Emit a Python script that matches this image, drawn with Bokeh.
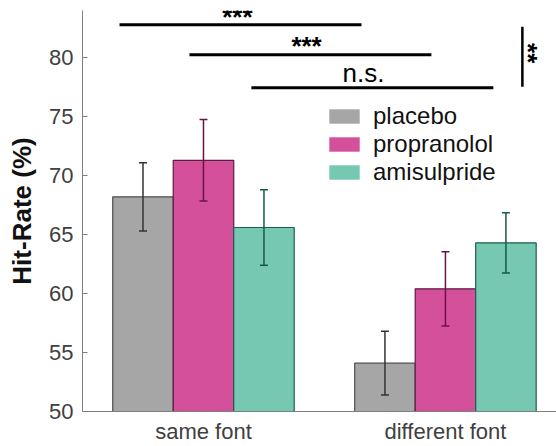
import numpy as np
from bokeh.plotting import figure
from bokeh.models import (ColumnDataSource, Range1d, FixedTicker, Whisker, TeeHead,
                          Legend, LegendItem)
from bokeh.core.properties import value
from bokeh.embed import file_html
from bokeh.resources import INLINE

# ---------------- data ----------------
groups = ["same font", "different font"]
group_x = [1, 2]
series = ["placebo", "propranolol", "amisulpride"]
placebo_mean = [68.2, 54.1]
propranolol_mean = [71.3, 60.4]
amisulpride_mean = [65.6, 64.3]
placebo_sem = [2.9, 2.7]
propranolol_sem = [3.45, 3.15]
amisulpride_sem = [3.2, 2.55]
y_ticks = [50, 55, 60, 65, 70, 75, 80]

# significance brackets (horizontal)
sig_x0 = [0.653, 0.942, 1.198]
sig_x1 = [1.653, 1.942, 2.198]
sig_y = [82.80, 80.25, 77.46]
sig_labels = ["***", "***", "n.s."]
sig_label_x = [1.140, 1.426, 1.661]
sig_label_y = [83.49, 80.95, 78.74]
# vertical bracket
vsig_x = [2.318]
vsig_y0 = [77.54]
vsig_y1 = [82.63]
vsig_label = ["**"]
vsig_label_x = [2.341]
vsig_label_y = [80.38]

means = [placebo_mean, propranolol_mean, amisulpride_mean]
sems = [placebo_sem, propranolol_sem, amisulpride_sem]

fills = ["#a6a6a6", "#d5509b", "#76c8b3"]
edges = ["#4d4d4d", "#5e1a40", "#1a5e4d"]
errc = ["#333333", "#6a1446", "#165a48"]
offsets = [-0.25, 0.0, 0.25]
bar_w = 0.25

FONT = "Liberation Sans"

p = figure(width=556, height=446,
           x_range=Range1d(0.5, 2.459), y_range=Range1d(50, 84),
           output_backend="svg", toolbar_location=None,
           min_border_left=82, min_border_right=0,
           min_border_top=10, min_border_bottom=35)
p.outline_line_color = None
p.xgrid.visible = False
p.ygrid.visible = False
p.background_fill_color = "white"
p.border_fill_color = "white"

# bars + error bars
legend_items = []
for i, name in enumerate(series):
    xs = np.array(group_x, dtype=float) + offsets[i]
    m = np.array(means[i])
    e = np.array(sems[i])
    src = ColumnDataSource(dict(x=xs, top=m, upper=m + e, lower=m - e))
    fill_r = p.vbar(x="x", top="top", bottom=50, width=bar_w, source=src,
                    fill_color=fills[i], line_color=None)
    p.vbar(x="x", top="top", bottom=50, width=bar_w, source=src,
           fill_color=None, line_color=edges[i], line_width=1.2)
    w = Whisker(base="x", upper="upper", lower="lower", source=src,
                dimension="height", line_color=errc[i], line_width=1.5,
                upper_head=TeeHead(size=8, line_color=errc[i], line_width=1.5),
                lower_head=TeeHead(size=8, line_color=errc[i], line_width=1.5),
                level="annotation")
    p.add_layout(w)
    legend_items.append(LegendItem(label=name, renderers=[fill_r]))

# significance annotations
p.segment(x0=sig_x0, y0=sig_y, x1=sig_x1, y1=sig_y, line_color="black", line_width=3)
p.segment(x0=vsig_x, y0=vsig_y0, x1=vsig_x, y1=vsig_y1, line_color="black", line_width=2.5)
for lab, lx, ly in zip(sig_labels, sig_label_x, sig_label_y):
    p.text(x=[lx], y=[ly], text=[lab], text_align="center", text_baseline="middle",
           text_font=value(FONT), text_font_size="26px",
           text_font_style="bold" if lab.startswith("*") else "normal",
           text_color="black")
p.text(x=vsig_label_x, y=vsig_label_y, text=vsig_label, angle=-np.pi / 2,
       text_align="center", text_baseline="middle",
       text_font=value(FONT), text_font_size="26px", text_font_style="bold",
       text_color="black")

# legend
legend = Legend(items=legend_items, location=(243, 225), orientation="vertical",
                glyph_width=38, glyph_height=18, label_height=18, label_standoff=10,
                spacing=0, padding=0, margin=0, border_line_color=None,
                background_fill_alpha=0, label_text_font=FONT,
                label_text_font_size="24px", label_text_color="#111111")
p.add_layout(legend)

# axes
axis_col = "#7f7f7f"
yax = p.yaxis[0]
yax.ticker = FixedTicker(ticks=y_ticks)
yax.major_tick_in = 5
yax.major_tick_out = 0
yax.minor_tick_line_color = None
yax.major_tick_line_color = axis_col
yax.axis_line_color = axis_col
yax.major_label_text_font = FONT
yax.major_label_text_font_size = "22px"
yax.major_label_text_color = "#404040"
yax.major_label_standoff = 9
yax.axis_label = "Hit-Rate (%)"
yax.axis_label_text_font = FONT
yax.axis_label_text_font_size = "26px"
yax.axis_label_text_font_style = "bold"
yax.axis_label_text_color = "#111111"
yax.axis_label_standoff = 9

xax = p.xaxis[0]
xax.ticker = FixedTicker(ticks=group_x)
xax.major_label_overrides = {gx: g for gx, g in zip(group_x, groups)}
xax.major_tick_line_color = None
xax.major_tick_in = 0
xax.major_tick_out = 0
xax.minor_tick_line_color = None
xax.axis_line_color = axis_col
xax.major_label_text_font = FONT
xax.major_label_text_font_size = "22px"
xax.major_label_text_color = "#404040"
xax.major_label_standoff = 7

open("out.html", "w").write(file_html(p, INLINE))
